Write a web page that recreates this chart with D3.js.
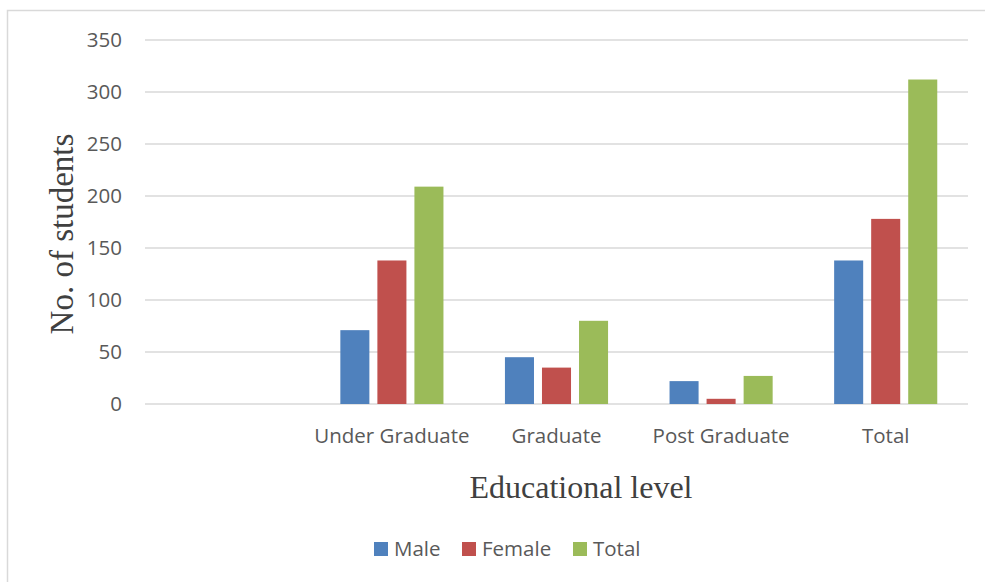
<!DOCTYPE html>
<html>
<head>
<meta charset="utf-8">
<script src="https://cdn.jsdelivr.net/npm/d3@7"></script>
<style>
  body { margin: 0; background: #fff; }
  .axis text { font-family: "Open Sans", "Noto Sans", sans-serif; fill: #595959; }
  .legend-text { font-family: "Open Sans", "Noto Sans", sans-serif; fill: #595959; }
  .title { font-family: "Liberation Serif", "DejaVu Serif", serif; fill: #404040; }
</style>
</head>
<body>
<svg id="chart"></svg>
<script>
// data
const categories = ['', 'Under Graduate', 'Graduate', 'Post Graduate', 'Total'];
const seriesNames = ['Male', 'Female', 'Total'];
const maleValues = [null, 71, 45, 22, 138];
const femaleValues = [null, 138, 35, 5, 178];
const totalValues = [null, 209, 80, 27, 312];
const yTicks = [0, 50, 100, 150, 200, 250, 300, 350];
const colors = ['#4F81BD', '#C0504D', '#9BBB59'];

const width = 985, height = 582;
const margin = {top: 40, right: 17, bottom: 178, left: 145};

const svg = d3.select('#chart')
    .attr('width', width)
    .attr('height', height);

// chart border
svg.append('rect')
    .attr('x', 7.5).attr('y', 10.5)
    .attr('width', width + 10).attr('height', height + 10)
    .attr('fill', 'none')
    .attr('stroke', '#d9d9d9')
    .attr('stroke-width', 1.5);

const innerW = width - margin.left - margin.right;
const innerH = height - margin.top - margin.bottom;

const chart = svg.append('g')
    .attr('transform', `translate(${margin.left},${margin.top})`);

const x0 = d3.scaleBand().domain(categories.map((c, i) => i)).range([0, innerW]).padding(0);
const x1 = d3.scaleBand().domain(seriesNames)
    .range([0, x0.bandwidth()])
    .paddingInner(0.216)
    .paddingOuter(0.83);
const y = d3.scaleLinear().domain([0, 350]).range([innerH, 0]);

// gridlines
chart.selectAll('.grid')
    .data(yTicks)
    .join('line')
    .attr('class', 'grid')
    .attr('x1', 0).attr('x2', innerW)
    .attr('y1', d => y(d)).attr('y2', d => y(d))
    .attr('stroke', '#d9d9d9')
    .attr('stroke-width', 1.5);

// y axis labels
const yAxis = d3.axisLeft(y).tickValues(yTicks).tickSize(0).tickPadding(23);
chart.append('g')
    .attr('class', 'axis y-axis')
    .call(yAxis)
    .call(g => g.select('.domain').remove())
    .selectAll('text')
    .style('font-size', '20.5px');

// x axis labels
const xAxis = d3.axisBottom(x0).tickSize(0).tickPadding(24).tickFormat(i => categories[i]);
chart.append('g')
    .attr('class', 'axis x-axis')
    .attr('transform', `translate(0,${innerH})`)
    .call(xAxis)
    .call(g => g.select('.domain').remove())
    .selectAll('text')
    .style('font-size', '20.5px');

// bars
const rows = categories.map((c, i) => ({
  idx: i,
  values: [maleValues[i], femaleValues[i], totalValues[i]]
}));

const groups = chart.selectAll('.group')
    .data(rows)
    .join('g')
    .attr('class', 'group')
    .attr('transform', d => `translate(${x0(d.idx)},0)`);

groups.selectAll('rect')
    .data(d => d.values.map((v, k) => ({name: seriesNames[k], value: v, k: k})).filter(d => d.value != null))
    .join('rect')
    .attr('x', d => x1(d.name))
    .attr('width', x1.bandwidth())
    .attr('y', d => y(d.value))
    .attr('height', d => innerH - y(d.value))
    .attr('fill', d => colors[d.k]);

// axis titles
svg.append('text')
    .attr('class', 'title')
    .attr('transform', 'translate(73,234) rotate(-90)')
    .attr('text-anchor', 'middle')
    .style('font-size', '33px')
    .text('No. of students');

svg.append('text')
    .attr('class', 'title')
    .attr('x', 581)
    .attr('y', 498)
    .attr('text-anchor', 'middle')
    .style('font-size', '32px')
    .text('Educational level');

// legend
const legendX = [374, 462, 573];
const legend = svg.append('g').attr('class', 'legend');
legend.selectAll('rect')
    .data(seriesNames)
    .join('rect')
    .attr('x', (d, i) => legendX[i])
    .attr('y', 542)
    .attr('width', 14).attr('height', 14)
    .attr('fill', (d, i) => colors[i]);
legend.selectAll('text')
    .data(seriesNames)
    .join('text')
    .attr('class', 'legend-text')
    .attr('x', (d, i) => legendX[i] + 20)
    .attr('y', 549)
    .attr('dy', '0.35em')
    .style('font-size', '20.5px')
    .text(d => d);
</script>
</body>
</html>
